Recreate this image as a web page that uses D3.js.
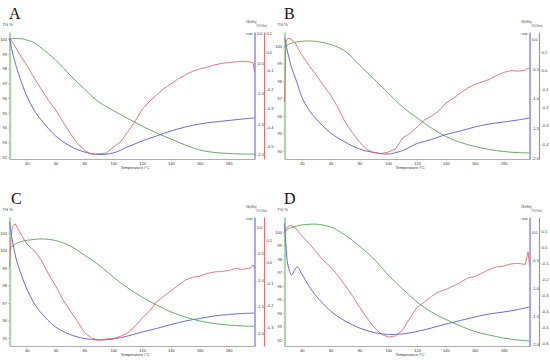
<!DOCTYPE html>
<html lang="en">
<head>
<meta charset="UTF-8">
<title>TG / DTA / DTG curves</title>
<script src="https://d3js.org/d3.v7.min.js"></script>
<style>
  * { margin: 0; padding: 0; }
  body { background: #fff; width: 550px; height: 360px; overflow: hidden; }
  svg { display: block; font-family: 'Liberation Sans', Arial, sans-serif; }
  .axis text, .small { font-size: 4px; fill: #333; }
  .tiny { font-size: 3.4px; fill: #333; }
  .letter { font-family: 'Liberation Serif', 'Times New Roman', serif; font-size: 16px; fill: #111; }
</style>
</head>
<body>
<svg id="chart" width="550" height="360"></svg>
<script>
// temperature grids (°C)
const temps = [28, 29, 30, 32, 33, 35, 37, 40, 45, 50, 60, 70, 80, 90, 100, 110, 120, 130, 140, 150, 160, 170, 180, 190, 198];
const dtgTemps = [28, 29, 30, 32, 35, 40, 45, 50, 55, 60, 65, 70, 75, 80, 85, 90, 95, 100, 105, 110, 115, 120, 125, 130,
                  135, 140, 145, 150, 155, 160, 165, 170, 175, 180, 185, 190, 195, 197, 198];
const xTicks = [40, 60, 80, 100, 120, 140, 160, 180];

// A
const tgA = [100.00, 100.01, 100.03, 100.04, 100.04, 100.03, 100.01, 99.93, 99.76, 99.39, 98.58, 97.56, 96.61, 95.73, 95.15, 94.61, 94.10, 93.63, 93.22, 92.81, 92.47, 92.31, 92.24, 92.20, 92.20];
const dtaA = [-0.083, -0.198, -0.314, -0.496, -0.579, -0.727, -0.860, -1.041, -1.273, -1.438, -1.702, -1.868, -1.967, -2.008, -1.983, -1.884, -1.785, -1.702, -1.620, -1.554, -1.504, -1.471, -1.446, -1.421, -1.405];
const dtgA = [0.073, 0.063, 0.052, 0.026, -0.012, -0.072, -0.137, -0.198, -0.257, -0.309, -0.371, -0.431, -0.485, -0.522, -0.545, -0.541, -0.538, -0.507, -0.478, -0.425, -0.371, -0.306, -0.265, -0.229, -0.196, -0.171, -0.144, -0.123, -0.104, -0.091, -0.082, -0.070, -0.062, -0.057, -0.053, -0.051, -0.054, -0.058, -0.107];

// B
const tgB = [99.94, 100.00, 100.06, 100.14, 100.17, 100.20, 100.24, 100.27, 100.29, 100.26, 100.09, 99.71, 98.91, 98.11, 97.31, 96.51, 95.89, 95.31, 94.83, 94.49, 94.26, 94.09, 93.97, 93.91, 93.89];
const dtaB = [0.017, -0.084, -0.202, -0.403, -0.487, -0.622, -0.756, -0.975, -1.193, -1.345, -1.580, -1.731, -1.849, -1.908, -1.933, -1.874, -1.756, -1.689, -1.605, -1.546, -1.479, -1.429, -1.395, -1.361, -1.328];
const dtgB = [-0.172, 0.154, 0.171, 0.173, 0.154, 0.084, 0.027, -0.025, -0.082, -0.134, -0.201, -0.280, -0.337, -0.389, -0.429, -0.446, -0.452, -0.444, -0.427, -0.367, -0.343, -0.308, -0.270, -0.248, -0.221, -0.177, -0.153, -0.123, -0.096, -0.077, -0.063, -0.049, -0.028, -0.011, -0.001, -0.004, 0.002, 0.013, 0.008];

// C
const tgC = [100.09, 100.17, 100.26, 100.37, 100.41, 100.47, 100.53, 100.58, 100.63, 100.66, 100.57, 100.26, 99.74, 99.17, 98.49, 97.86, 97.34, 96.89, 96.49, 96.20, 95.97, 95.83, 95.74, 95.69, 95.66];
const dtaC = [0.094, -0.094, -0.264, -0.528, -0.642, -0.811, -0.962, -1.170, -1.434, -1.623, -1.887, -2.028, -2.104, -2.132, -2.113, -2.057, -1.981, -1.915, -1.840, -1.774, -1.726, -1.679, -1.651, -1.632, -1.623];
const dtgC = [-0.024, 0.100, 0.164, 0.174, 0.137, 0.082, 0.052, 0.008, -0.055, -0.111, -0.173, -0.225, -0.272, -0.326, -0.351, -0.360, -0.355, -0.353, -0.343, -0.327, -0.298, -0.259, -0.228, -0.185, -0.159, -0.134, -0.109, -0.084, -0.072, -0.066, -0.054, -0.047, -0.045, -0.040, -0.031, -0.035, -0.029, -0.015, -0.029];

// D
const tgD = [100.00, 100.11, 100.20, 100.30, 100.33, 100.40, 100.46, 100.52, 100.57, 100.58, 100.37, 99.78, 98.96, 98.00, 96.81, 95.78, 94.81, 94.07, 93.52, 93.04, 92.63, 92.37, 92.15, 92.00, 91.93];
const dtaD = [0.161, -0.232, -0.536, -0.732, -0.768, -0.679, -0.625, -0.750, -0.964, -1.143, -1.411, -1.589, -1.714, -1.795, -1.830, -1.821, -1.777, -1.714, -1.643, -1.580, -1.518, -1.464, -1.429, -1.384, -1.339];
const dtgD = [0.088, 0.113, 0.125, 0.134, 0.125, 0.069, 0.022, -0.031, -0.084, -0.125, -0.178, -0.238, -0.303, -0.375, -0.441, -0.500, -0.544, -0.563, -0.556, -0.519, -0.444, -0.378, -0.344, -0.309, -0.281, -0.266, -0.244, -0.222, -0.194, -0.184, -0.163, -0.141, -0.125, -0.119, -0.106, -0.102, -0.109, -0.031, -0.113];

// tick labels
const tgTicksA = [92, 93, 94, 95, 96, 97, 98, 99, 100];
const tgTicksB = [94, 95, 96, 97, 98, 99, 100];
const tgTicksC = [95, 96, 97, 98, 99, 100, 101];
const tgTicksD = [92, 93, 94, 95, 96, 97, 98, 99, 100];
const dtaTicks = [0, -0.5, -1, -1.5, -2];
const dtgTicksA = [0.1, 0, -0.1, -0.2, -0.3, -0.4, -0.5];
const dtgTicksB = [0.1, 0, -0.1, -0.2, -0.3, -0.4];
const dtgTicksC = [0.1, 0, -0.1, -0.2, -0.3];
const dtgTicksD = [0.1, 0, -0.1, -0.2, -0.3, -0.4, -0.5, -0.6];

const panels = [
  { name: "A", dx: 0,   top: 32,  bottom: 159, tg: tgA, dta: dtaA, dtg: dtgA,
    tgDom: [91.864, 100.475], dtaDom: [-2.083, 0.017], dtgDom: [-0.569, 0.105], tgTicks: tgTicksA, dtgTicks: dtgTicksA },
  { name: "B", dx: 275, top: 32,  bottom: 159, tg: tgB, dta: dtaB, dtg: dtgB,
    tgDom: [93.543, 100.8], dtaDom: [-2.017, 0.118], dtgDom: [-0.4815, 0.2087], tgTicks: tgTicksB, dtgTicks: dtgTicksB },
  { name: "C", dx: 0,   top: 217, bottom: 346, tg: tgC, dta: dtaC, dtg: dtgC,
    tgDom: [94.543, 101.914], dtaDom: [-2.245, 0.189], dtgDom: [-0.3874, 0.2057], tgTicks: tgTicksC, dtgTicks: dtgTicksC },
  { name: "D", dx: 275, top: 217, bottom: 346, tg: tgD, dta: dtaD, dtg: dtgD,
    tgDom: [91.556, 101.111], dtaDom: [-2.036, 0.268], dtgDom: [-0.6188, 0.1875], tgTicks: tgTicksD, dtgTicks: dtgTicksD }
];

const colors = { tg: "#55a455", dta: "#5a5ad8", dtg: "#dc5a5a",
                 tgAxis: "#8fd08f", dtaAxis: "#a9a9f2", dtgAxis: "#e07070" };
const left = 9.5, blueX = 254.5, redX = 264;
const fmt1 = v => (v < 0 ? "-" : "") + Math.abs(v).toFixed(1);

const svg = d3.select("#chart");
const x = d3.scaleLinear().domain([28, 198]).range([left, blueX]);

panels.forEach(p => {
  const g = svg.append("g").attr("transform", `translate(${p.dx},0)`);
  const yTg = d3.scaleLinear().domain(p.tgDom).range([p.bottom, p.top]);
  const yDta = d3.scaleLinear().domain(p.dtaDom).range([p.bottom, p.top]);
  const yDtg = d3.scaleLinear().domain(p.dtgDom).range([p.bottom, p.top]);

  // panel letter
  g.append("text").attr("class", "letter")
    .attr("x", p.name === "C" ? 11 : 9).attr("y", p.top - 13.5).text(p.name);

  // bottom axis
  const xa = g.append("g").attr("class", "axis")
    .attr("transform", `translate(0,${p.bottom})`)
    .call(d3.axisBottom(x).tickValues(xTicks).tickSize(1.5).tickSizeOuter(0).tickPadding(1.2));
  xa.select(".domain").attr("stroke", "#999").attr("stroke-width", 0.8);
  xa.selectAll(".tick line").attr("stroke", "#999").attr("stroke-width", 0.5);

  // TG axis
  const ta = g.append("g").attr("class", "axis")
    .attr("transform", `translate(${left},0)`)
    .call(d3.axisLeft(yTg).tickValues(p.tgTicks).tickSize(1.5).tickSizeOuter(0).tickPadding(1).tickFormat(d3.format("d")));
  ta.select(".domain").attr("stroke", colors.tgAxis).attr("stroke-width", 1.6);
  ta.selectAll(".tick line").attr("stroke", "#999").attr("stroke-width", 0.5);

  // DTA axis
  const da = g.append("g").attr("class", "axis")
    .attr("transform", `translate(${blueX},0)`)
    .call(d3.axisRight(yDta).tickValues(dtaTicks).tickSize(1.5).tickSizeOuter(0).tickPadding(1).tickFormat(fmt1));
  da.select(".domain").attr("stroke", colors.dtaAxis).attr("stroke-width", 2);
  da.selectAll(".tick line").attr("stroke", "#999").attr("stroke-width", 0.5);

  // DTG axis
  const ra = g.append("g").attr("class", "axis")
    .attr("transform", `translate(${redX},0)`)
    .call(d3.axisRight(yDtg).tickValues(p.dtgTicks).tickSize(1.5).tickSizeOuter(0).tickPadding(1).tickFormat(fmt1));
  ra.select(".domain").attr("stroke", colors.dtgAxis).attr("stroke-width", 1);
  ra.selectAll(".tick line").attr("stroke", "#999").attr("stroke-width", 0.5);

  // axis titles
  g.append("text").attr("class", "small").attr("x", 2.5).attr("y", p.top - 6).text("TG %");
  g.append("text").attr("class", "tiny").attr("x", 246).attr("y", p.top - 9.5)
    .attr("textLength", 10.5).attr("lengthAdjust", "spacingAndGlyphs").text("DTA (mW/mg)");
  g.append("text").attr("class", "tiny").attr("x", 256.5).attr("y", p.top - 5.5)
    .attr("textLength", 10.5).attr("lengthAdjust", "spacingAndGlyphs").text("DTG (%/min)");
  g.append("text").attr("class", "tiny").attr("x", 252.5).attr("y", p.top + 2.5)
    .attr("text-anchor", "end").text("\u2191 exo");
  g.append("text").attr("class", "small").attr("x", 135).attr("y", p.bottom + 9.5)
    .attr("text-anchor", "middle").text("Temperature /\u00B0C");

  // curves
  const smooth = (ys, yScale) => d3.line().curve(d3.curveCatmullRom)
    .x((d, i) => x(temps[i])).y(d => yScale(d))(ys);
  const jag = (ys, yScale) => d3.line()
    .x((d, i) => x(dtgTemps[i])).y(d => yScale(d))(ys);

  g.append("path").attr("d", smooth(p.tg, yTg)).attr("fill", "none")
    .attr("stroke", colors.tg).attr("stroke-width", 0.9);
  g.append("path").attr("d", smooth(p.dta, yDta)).attr("fill", "none")
    .attr("stroke", colors.dta).attr("stroke-width", 0.9);
  g.append("path").attr("d", jag(p.dtg, yDtg)).attr("fill", "none")
    .attr("stroke", colors.dtg).attr("stroke-width", 0.8);
});
</script>
</body>
</html>
